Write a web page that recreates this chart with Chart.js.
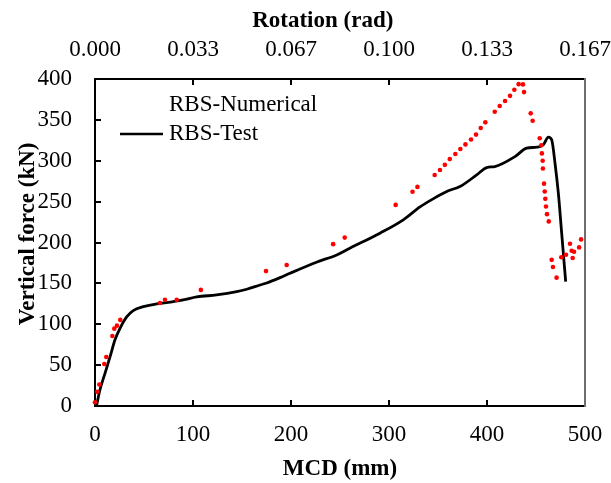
<!DOCTYPE html>
<html>
<head>
<meta charset="utf-8">
<script src="https://cdn.jsdelivr.net/npm/chart.js@4.4.1/dist/chart.umd.min.js"></script>
<style>
  body { margin: 0; background: #fff; }
  canvas { display: block; }
</style>
</head>
<body>
<canvas id="chart1" width="611" height="483"></canvas>
<script>
// RBS-Numerical (red dots): MCD (mm) and vertical force (kN)
const numMcd = [0, 2.3, 4.4, 9.5, 11.5, 17.7, 19.7, 22.4, 25.8, 66.3, 71.4, 83.4, 108, 174.5, 195.6,
    243, 254.8, 306.8, 324, 329, 346.6, 352, 357, 362, 367.7, 372.8, 378, 383.7, 388.8, 393.6, 398.3,
    407.9, 413, 418.4, 423.5, 427.9, 432.3, 436.7, 437.8, 444.6, 446.6, 453.8, 455.4, 456, 456.8, 457,
    458.2, 458.9, 459.5, 460.2, 461.2, 463, 466, 467.3, 471, 475.8, 480.6, 484.7, 486.4, 487.4, 488.8,
    494, 496];
const numForce = [4.5, 17.3, 26.3, 51.4, 60, 85.7, 94.6, 98.3, 105.3, 126, 130, 130, 142, 165, 172.5,
    198, 206, 246, 262, 268, 282.5, 288.7, 295, 302, 308.3, 314.4, 320, 326, 332, 340, 347,
    360, 367, 373, 379.4, 386.8, 393.7, 393.4, 384, 358, 349, 327.6, 319, 309, 300, 290.6,
    272, 262.4, 253.4, 244, 234.7, 225.8, 178.8, 170, 157, 182, 185, 198.5, 190, 181, 188.6,
    194, 203.8];

// RBS-Test (black curve)
const testMcd = [1.5, 5, 10.2, 15.3, 20.4, 25.5, 32.3, 39, 49.3, 63, 80, 90, 103.8, 124, 144.6, 154.8,
    168.4, 175.2, 188.8, 199, 226, 246.6, 260, 290.8, 314.6, 331.6, 345, 360.5, 372.4, 389.5, 399.7,
    408, 428.6, 440.5, 450.7, 457.5, 462.6, 466, 469.4, 472.8, 476.2, 480.3];
const testForce = [0, 19.6, 40, 60, 81, 95, 109, 116.7, 121.5, 124.8, 127.7, 129.7, 133.4, 135.9, 139.9, 142.8,
    148, 150.5, 157, 162.4, 175.9, 184.8, 193, 211.4, 227.7, 243.5, 253.4, 263.2, 268.4, 282.7, 291.7,
    292.9, 305.1, 315.4, 316.6, 319.5, 328.9, 325.6, 297, 260.3, 211.4, 152];

const mcdTicks = [0, 100, 200, 300, 400, 500];
const rotationLabels = ['0.000', '0.033', '0.067', '0.100', '0.133', '0.167'];
const forceTicks = [0, 50, 100, 150, 200, 250, 300, 350, 400];

const FONT = '"Liberation Serif", "Times New Roman", serif';

// excel style ticks pointing into the plot + grey right frame
const frameTicks = {
    id: 'frameTicks',
    afterDatasetsDraw(chart) {
        const { ctx, chartArea: a, scales } = chart;
        ctx.save();
        ctx.strokeStyle = '#000';
        ctx.lineWidth = 2;
        ctx.beginPath();
        mcdTicks.slice(1, -1).forEach(v => {
            const px = Math.round(scales.x.getPixelForValue(v));
            ctx.moveTo(px, a.bottom);
            ctx.lineTo(px, a.bottom - 6);
            ctx.moveTo(px, a.top);
            ctx.lineTo(px, a.top + 6);
        });
        forceTicks.slice(1, -1).forEach(v => {
            const py = Math.round(scales.y.getPixelForValue(v));
            ctx.moveTo(a.left, py);
            ctx.lineTo(a.left + 6, py);
        });
        ctx.stroke();
        ctx.strokeStyle = '#6e6e6e';
        ctx.beginPath();
        ctx.moveTo(a.right, a.top - 1);
        ctx.lineTo(a.right, a.bottom + 1);
        ctx.stroke();
        ctx.restore();
    }
};

// legend sits inside the plot, top left
const innerLegend = {
    id: 'innerLegend',
    afterDraw(chart) {
        const { ctx } = chart;
        const sets = chart.data.datasets;
        ctx.save();
        ctx.font = '23px ' + FONT;
        ctx.fillStyle = '#000';
        ctx.textBaseline = 'middle';
        ctx.textAlign = 'left';
        ctx.fillText(sets[0].label, 169, 105);
        ctx.fillText(sets[1].label, 169, 134);
        ctx.strokeStyle = '#000';
        ctx.lineWidth = 2.5;
        ctx.beginPath();
        ctx.moveTo(120, 134);
        ctx.lineTo(163, 134);
        ctx.stroke();
        ctx.restore();
    }
};

const numData = numMcd.map((x, i) => ({ x: x, y: numForce[i] }));
const testData = testMcd.map((x, i) => ({ x: x, y: testForce[i] }));

const tickFont = { family: FONT, size: 23, lineHeight: 1.2 };
const titleFont = { family: FONT, size: 23, weight: 'bold', lineHeight: 1.2 };

const config = {
    type: 'line',
    data: {
        datasets: [
            {
                label: 'RBS-Numerical',
                data: numData,
                showLine: false,
                pointRadius: 2.3,
                pointBackgroundColor: '#ff0000',
                pointBorderWidth: 0,
                order: 0,
                clip: 5
            },
            {
                label: 'RBS-Test',
                data: testData,
                borderColor: '#000',
                borderWidth: 2.8,
                pointRadius: 0,
                cubicInterpolationMode: 'monotone',
                order: 1
            }
        ]
    },
    options: {
        responsive: false,
        animation: false,
        layout: { padding: { left: 0, right: 26, top: 0, bottom: 0 } },
        scales: {
            x: {
                type: 'linear',
                position: 'bottom',
                min: 0,
                max: 500,
                afterFit(s) { s.height = 77; s.paddingLeft = 0; s.paddingRight = 0; },
                grid: { display: false, drawTicks: false },
                border: { display: true, color: '#000', width: 2 },
                ticks: { stepSize: 100, padding: 15, color: '#000', maxRotation: 0, font: tickFont },
                title: {
                    display: true,
                    text: 'MCD (mm)',
                    color: '#000',
                    padding: { top: 0, bottom: 0 },
                    font: titleFont
                }
            },
            x2: {
                type: 'linear',
                position: 'top',
                min: 0,
                max: 500,
                afterFit(s) { s.height = 79; s.paddingLeft = 0; s.paddingRight = 0; },
                grid: { display: false, drawTicks: false },
                border: { display: true, color: '#000', width: 2 },
                ticks: {
                    stepSize: 100,
                    padding: 15,
                    color: '#000',
                    maxRotation: 0,
                    font: tickFont,
                    callback: (v, i) => rotationLabels[i]
                },
                title: {
                    display: true,
                    text: 'Rotation (rad)      ',
                    color: '#000',
                    padding: { top: 7, bottom: 0 },
                    font: titleFont
                }
            },
            y: {
                type: 'linear',
                min: 0,
                max: 400,
                afterFit(s) { s.width = 95; },
                grid: { display: false, drawTicks: false },
                border: { display: true, color: '#000', width: 2 },
                ticks: { stepSize: 50, padding: 23, color: '#000', font: tickFont },
                title: {
                    display: true,
                    text: '   Vertical force (kN)',
                    color: '#000',
                    padding: { top: 14, bottom: 0 },
                    font: titleFont
                }
            }
        },
        plugins: {
            legend: { display: false },
            tooltip: { enabled: false }
        }
    },
    plugins: [frameTicks, innerLegend]
};

var myChart = new Chart(document.getElementById('chart1'), config);
</script>
</body>
</html>
